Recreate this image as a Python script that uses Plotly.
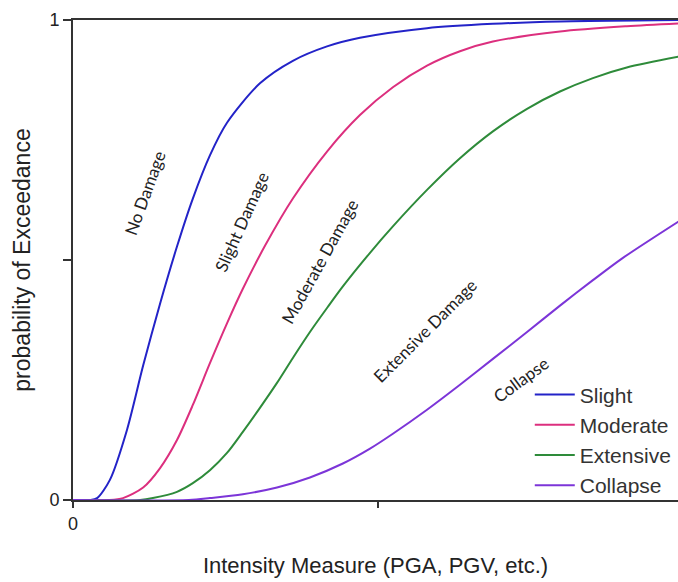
import plotly.graph_objects as go

# Fragility curves: intensity measure (arbitrary units) vs probability of exceedance
slight_im = [0.0, 0.056, 0.079, 0.121, 0.177, 0.230, 0.285, 0.341, 0.393, 0.449, 0.505,
             0.613, 0.721, 0.833, 0.941, 1.161, 1.377, 1.597, 1.990]
slight_p = [0.0, 0.0, 0.004, 0.042, 0.146, 0.280, 0.408, 0.528, 0.628, 0.718, 0.786,
            0.868, 0.915, 0.945, 0.963, 0.983, 0.992, 0.997, 1.0]

moderate_im = [0.0, 0.120, 0.164, 0.230, 0.285, 0.341, 0.393, 0.449, 0.505, 0.557, 0.630,
               0.721, 0.833, 0.941, 1.049, 1.161, 1.269, 1.377, 1.597, 1.816, 1.990]
moderate_p = [0.0, 0.0, 0.004, 0.026, 0.066, 0.125, 0.198, 0.285, 0.368, 0.440, 0.530,
              0.628, 0.726, 0.802, 0.860, 0.905, 0.935, 0.955, 0.976, 0.987, 0.993]

extensive_im = [0.0, 0.220, 0.262, 0.341, 0.393, 0.449, 0.505, 0.557, 0.613, 0.669, 0.721,
                0.777, 0.833, 0.885, 0.974, 1.049, 1.161, 1.269, 1.377, 1.489, 1.597,
                1.705, 1.816, 1.990]
extensive_p = [0.0, 0.0, 0.004, 0.017, 0.035, 0.062, 0.098, 0.142, 0.192, 0.244, 0.296,
               0.350, 0.400, 0.445, 0.515, 0.570, 0.646, 0.712, 0.768, 0.815, 0.851,
               0.879, 0.901, 0.924]

collapse_im = [0.0, 0.380, 0.449, 0.557, 0.669, 0.777, 0.885, 0.974, 1.049, 1.161, 1.269,
               1.377, 1.489, 1.597, 1.705, 1.800, 1.990]
collapse_p = [0.0, 0.0, 0.004, 0.012, 0.026, 0.047, 0.076, 0.107, 0.138, 0.188, 0.240,
              0.294, 0.350, 0.405, 0.458, 0.503, 0.582]

series = [
    ("Slight", slight_im, slight_p, "#2323c8"),
    ("Moderate", moderate_im, moderate_p, "#dc2f7e"),
    ("Extensive", extensive_im, extensive_p, "#2e8b3a"),
    ("Collapse", collapse_im, collapse_p, "#7c35d8"),
]

# Damage-state labels placed between the curves
region_labels = ["No Damage", "Slight Damage", "Moderate Damage", "Extensive Damage", "Collapse"]
region_x = [0.237, 0.551, 0.810, 1.154, 1.469]
region_y = [0.640, 0.579, 0.496, 0.354, 0.252]
region_angle = [-70, -66, -61, -45, -36]

fig = go.Figure()
for name, xs, ys, color in series:
    fig.add_trace(go.Scatter(
        x=xs, y=ys, name=name, mode="lines",
        line=dict(color=color, width=2, shape="spline", smoothing=0.8),
    ))

for text, x, y, ang in zip(region_labels, region_x, region_y, region_angle):
    fig.add_annotation(
        x=x, y=y, text=text, textangle=ang, showarrow=False,
        font=dict(family="Lato, Carlito, sans-serif", size=17, color="#222222"),
    )

tick_font = dict(family="Liberation Sans, Arial, sans-serif", size=18, color="#222222")
xtitle_font = dict(family="Liberation Sans, Arial, sans-serif", size=22, color="#222222")
ytitle_font = dict(family="Liberation Sans, Arial, sans-serif", size=23, color="#222222")

fig.update_layout(
    width=678, height=582,
    margin=dict(l=73, r=0, t=20, b=82, autoexpand=False),
    paper_bgcolor="white", plot_bgcolor="white",
    font=tick_font,
    showlegend=True,
    legend=dict(
        x=0.755, y=0.262, xanchor="left", yanchor="top",
        bgcolor="rgba(255,255,255,0)",
        font=dict(family="Liberation Sans, Arial, sans-serif", size=21, color="#333333"),
        itemwidth=40, tracegroupgap=0,
    ),
    xaxis=dict(
        range=[0, 1.984], showgrid=False, zeroline=False,
        showline=True, linecolor="#333333", linewidth=2, mirror=True,
        ticks="outside", ticklen=6, tickcolor="#333333", tickwidth=1.5,
        tickvals=[0, 1], ticktext=["0", ""],
        tickfont=tick_font,
        title=dict(text="Intensity Measure (PGA, PGV, etc.)", font=xtitle_font, standoff=25),
    ),
    yaxis=dict(
        range=[0, 1], showgrid=False, zeroline=False,
        showline=True, linecolor="#333333", linewidth=2,
        ticks="outside", ticklen=8, tickcolor="#333333", tickwidth=1.5,
        tickvals=[0, 0.5, 1], ticktext=["0", "", "1"],
        tickfont=tick_font,
        title=dict(text="probability of Exceedance", font=ytitle_font, standoff=12),
    ),
)

fig.write_html("out.html")
